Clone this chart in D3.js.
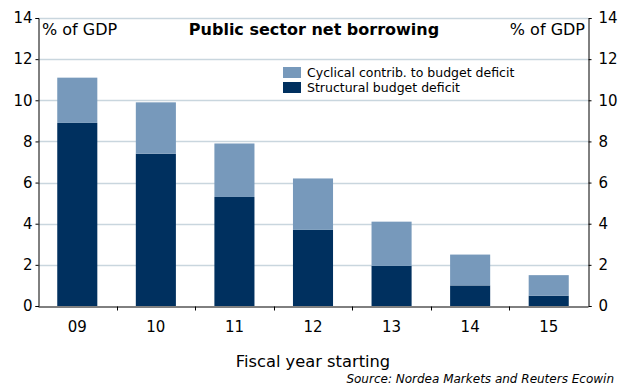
<!DOCTYPE html>
<html>
<head>
<meta charset="utf-8">
<script src="https://cdn.jsdelivr.net/npm/d3@7"></script>
<style>
  body { margin: 0; background: #fff; }
  svg { display: block; font-family: "DejaVu Sans", Verdana, sans-serif; }
</style>
</head>
<body>
<div id="chart"></div>
<script>
// ─── DATA ───────────────────────────────────────────────────────────────────────
const years = ['09', '10', '11', '12', '13', '14', '15'];
const structural = [8.9, 7.4, 5.3, 3.7, 1.95, 1.0, 0.5];
const cyclical = [2.2, 2.5, 2.6, 2.5, 2.15, 1.5, 1.0];
const yTicks = [0, 2, 4, 6, 8, 10, 12, 14];

const W = 619, H = 385;
const margin = {top: 18, right: 31, bottom: 79, left: 38};
const width = W - margin.left - margin.right;
const height = H - margin.top - margin.bottom;

const dark = '#00305f', light = '#7799bb';

const svg = d3.select('#chart').append('svg')
  .attr('width', W).attr('height', H);

const g = svg.append('g')
  .attr('transform', `translate(${margin.left},${margin.top})`);

// ─── SCALES ─────────────────────────────────────────────────────────────────────
const x = d3.scaleBand().domain(years).range([0, width]).paddingInner(0.49).paddingOuter(0.245);
const y = d3.scaleLinear().domain([0, 14]).range([height, 0]);

// gridlines
g.selectAll('.grid').data(yTicks.filter(d => d > 0)).enter().append('line')
  .attr('x1', 0).attr('x2', width)
  .attr('y1', d => Math.round(y(d)) + 0.5).attr('y2', d => Math.round(y(d)) + 0.5)
  .attr('stroke', '#c9d6de').attr('stroke-width', 1.5);

// ─── BARS ───────────────────────────────────────────────────────────────────────
const rows = years.map((yr, i) => ({yr, s: structural[i], c: cyclical[i]}));

g.selectAll('.sb').data(rows).enter().append('rect')
  .attr('x', d => x(d.yr)).attr('width', x.bandwidth())
  .attr('y', d => y(d.s)).attr('height', d => y(0) - y(d.s))
  .attr('fill', dark);

g.selectAll('.cb').data(rows).enter().append('rect')
  .attr('x', d => x(d.yr)).attr('width', x.bandwidth())
  .attr('y', d => y(d.s + d.c)).attr('height', d => y(d.s) - y(d.s + d.c))
  .attr('fill', light);

// ─── AXES ───────────────────────────────────────────────────────────────────────
const fs = '15px';
const yl = g.append('g').attr('transform', 'translate(0.5,0)')
  .call(d3.axisLeft(y).tickValues(yTicks).tickSize(3).tickPadding(3));
const yr = g.append('g').attr('transform', `translate(${width + 0.5},0)`)
  .call(d3.axisRight(y).tickValues(yTicks).tickSize(3).tickPadding(7));
[yl, yr].forEach(a => {
  a.select('.domain').attr('stroke', '#000');
  a.selectAll('text').style('font-size', fs).attr('fill', '#000')
    .style('font-family', '"DejaVu Sans", Verdana, sans-serif');
});

// x axis: ticks at band boundaries
const xa = g.append('g').attr('transform', `translate(0,${height + 0.5})`)
  .call(d3.axisBottom(x).tickSize(0).tickPadding(15));
xa.select('.domain').attr('stroke', '#000');
xa.selectAll('text').style('font-size', fs).attr('fill', '#000')
  .style('font-family', '"DejaVu Sans", Verdana, sans-serif');
const step = x.step();
xa.selectAll('.bt').data(d3.range(1, years.length)).enter().append('line')
  .attr('x1', i => Math.round(i * step) + 0.5).attr('x2', i => Math.round(i * step) + 0.5)
  .attr('y1', 0).attr('y2', 4).attr('stroke', '#000');

// ─── TEXT ───────────────────────────────────────────────────────────────────────
svg.append('text').attr('x', 42).attr('y', 35).style('font-size', '16px').text('% of GDP');
svg.append('text').attr('x', 585).attr('y', 35).attr('text-anchor', 'end')
  .style('font-size', '16px').text('% of GDP');
svg.append('text').attr('x', 314).attr('y', 35).attr('text-anchor', 'middle')
  .style('font-size', '16px').style('font-weight', 'bold').text('Public sector net borrowing');

// legend
const leg = svg.append('g').attr('transform', 'translate(283,67)');
[['Cyclical contrib. to budget deficit', light], ['Structural budget deficit', dark]].forEach((d, i) => {
  leg.append('rect').attr('x', 0).attr('y', i * 15).attr('width', 18).attr('height', 11).attr('fill', d[1]);
  leg.append('text').attr('x', 24).attr('y', i * 15 + 10).style('font-size', '12.5px').text(d[0]);
});

svg.append('text').attr('x', 313).attr('y', 367).attr('text-anchor', 'middle')
  .style('font-size', '16.3px').text('Fiscal year starting');
svg.append('text').attr('x', 614).attr('y', 383).attr('text-anchor', 'end')
  .style('font-size', '12px').style('font-style', 'italic')
  .text('Source: Nordea Markets and Reuters Ecowin');
</script>
</body>
</html>
